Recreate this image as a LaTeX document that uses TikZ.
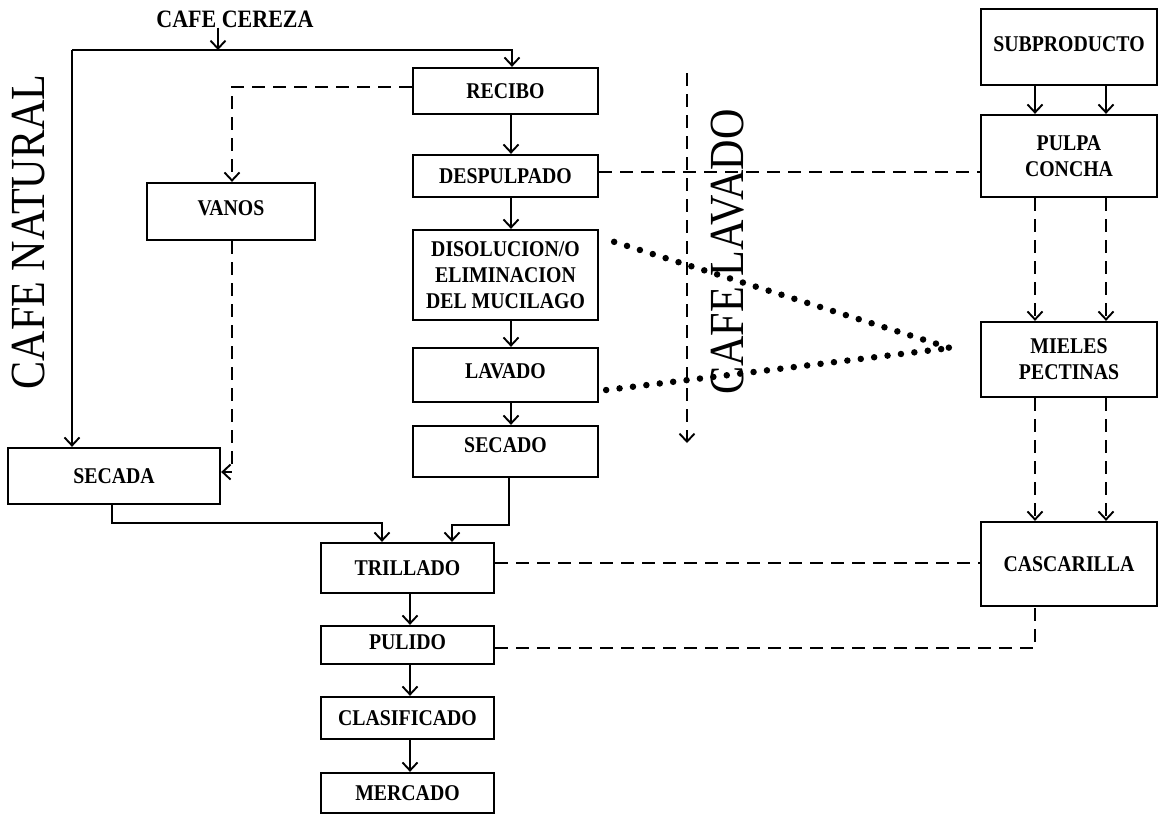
\documentclass[tikz,border=0pt]{standalone}
\usepackage{fontspec}
\setmainfont{Liberation Serif}
\newfontfamily\lblfont{Liberation Serif}[FakeStretch=0.88]
\newfontfamily\bigfont{Liberation Serif}[FakeStretch=0.86]
\usetikzlibrary{arrows.meta}
\begin{document}
\begin{tikzpicture}[x=1pt,y=-1pt,
  box/.style={draw,line width=2.3pt,inner sep=0pt,align=center,
    font=\lblfont\bfseries\fontsize{22.5}{26}\selectfont},
  conn/.style={line width=1.9pt},
  arr/.style={-{Straight Barb[length=8pt,width=15pt,line width=1.9pt]}},
  dsh/.style={dash pattern=on 13pt off 8pt},
  dotln/.style={line width=6.5pt,line cap=round,dash pattern=on 0pt off 13.5pt},
  bigtxt/.style={font=\bigfont\fontsize{49}{49}\selectfont,rotate=90,inner sep=0pt}]
\useasboundingbox (0,0) rectangle (1163,815);
\fill[white] (0,0) rectangle (1163,815);

% titles
\node[font=\lblfont\bfseries\fontsize{25}{25}\selectfont,inner sep=0pt] (cereza) at (235,19) {CAFE CEREZA};
\node[bigtxt] (natural) at (29,232) {CAFE NATURAL};
\node[bigtxt] (lavadotxt) at (728,252) {CAFE LAVADO};

% main column
\node[box,minimum width=185pt,minimum height=46pt] (recibo) at (505.5,91) {RECIBO};
\node[box,minimum width=185pt,minimum height=42pt] (despulpado) at (505.5,176) {DESPULPADO};
\node[box,minimum width=185pt,minimum height=90pt] (disolucion) at (505.5,275) {DISOLUCION/O\\ELIMINACION\\DEL MUCILAGO};
\node[box,minimum width=185pt,minimum height=54pt,text depth=8pt] (lavado) at (505.5,375) {LAVADO};
\node[box,minimum width=185pt,minimum height=51pt,text depth=12pt] (secado) at (505.5,451.5) {SECADO};
\node[box,minimum width=168pt,minimum height=57pt,text depth=6pt] (vanos) at (231,211.5) {VANOS};
\node[box,minimum width=212pt,minimum height=56pt] (secada) at (114,476) {SECADA};
\node[box,minimum width=173pt,minimum height=50pt] (trillado) at (407.5,568) {TRILLADO};
\node[box,minimum width=173pt,minimum height=38pt,text depth=6pt] (pulido) at (407.5,645) {PULIDO};
\node[box,minimum width=173pt,minimum height=42pt] (clasificado) at (407.5,718) {CLASIFICADO};
\node[box,minimum width=173pt,minimum height=40pt] (mercado) at (407.5,793) {MERCADO};

% right column
\node[box,minimum width=176pt,minimum height=76pt,text depth=6pt] (subproducto) at (1069,47) {SUBPRODUCTO};
\node[box,minimum width=176pt,minimum height=82pt] (pulpa) at (1069,156) {PULPA\\CONCHA};
\node[box,minimum width=176pt,minimum height=75pt] (mieles) at (1069,359.5) {MIELES\\PECTINAS};
\node[box,minimum width=176pt,minimum height=84pt] (cascarilla) at (1069,564) {CASCARILLA};

% helper coordinates
\coordinate (cz) at (218,50);
\coordinate (tl) at (72,50);
\coordinate (tr) at (512,50);
\coordinate (colx) at (511,0);
\coordinate (rv) at (232,87);
\coordinate (vs) at (232,472);
\coordinate (sa) at (112,523);
\coordinate (sb) at (382,523);
\coordinate (sc) at (509,525);
\coordinate (sd) at (452,525);
\coordinate (lowx) at (410,0);
\coordinate (ra) at (1035,0);
\coordinate (rb) at (1106,0);
\coordinate (pc) at (1035,648);
\coordinate (lvtop) at (687,73);
\coordinate (lvbot) at (687,443);
\coordinate (conv) at (950,348);

% solid connectors
\draw[conn,arr] (cereza.south -| cz) -- (cz);
\draw[conn,arr] (tl) -- (secada.north -| tl);
\draw[conn,arr] (tl) -- (tr) -- (recibo.north -| tr);
\draw[conn,arr] (recibo.south -| colx) -- (despulpado.north -| colx);
\draw[conn,arr] (despulpado.south -| colx) -- (disolucion.north -| colx);
\draw[conn,arr] (disolucion.south -| colx) -- (lavado.north -| colx);
\draw[conn,arr] (lavado.south -| colx) -- (secado.north -| colx);
\draw[conn,arr] (secada.south -| sa) -- (sa) -- (sb) -- (trillado.north -| sb);
\draw[conn,arr] (secado.south -| sc) -- (sc) -- (sd) -- (trillado.north -| sd);
\draw[conn,arr] (trillado.south -| lowx) -- (pulido.north -| lowx);
\draw[conn,arr] (pulido.south -| lowx) -- (clasificado.north -| lowx);
\draw[conn,arr] (clasificado.south -| lowx) -- (mercado.north -| lowx);
\draw[conn,arr] (subproducto.south -| ra) -- (pulpa.north -| ra);
\draw[conn,arr] (subproducto.south -| rb) -- (pulpa.north -| rb);

% dashed connectors
\draw[conn,dsh,arr] (recibo.west |- rv) -- (rv) -- (vanos.north -| rv);
\draw[conn,dsh,arr] (vanos.south -| vs) -- (vs) -- (secada.east |- vs);
\draw[conn,dsh] (despulpado.east) ++(0,-4) -- (pulpa.west |- 0,172);
\draw[conn,dsh,arr] (pulpa.south -| ra) -- (mieles.north -| ra);
\draw[conn,dsh,arr] (pulpa.south -| rb) -- (mieles.north -| rb);
\draw[conn,dsh,arr] (mieles.south -| ra) -- (cascarilla.north -| ra);
\draw[conn,dsh,arr] (mieles.south -| rb) -- (cascarilla.north -| rb);
\draw[conn,dsh] (trillado.east |- 0,563) -- (cascarilla.west |- 0,563);
\draw[conn,dsh] (pulido.east |- pc) -- (pc) -- (cascarilla.south -| pc);
\draw[conn,dsh,arr] (lvtop) -- (lvbot);

% dotted connectors
\draw[dotln] ([xshift=15pt,yshift=-13pt]disolucion.north east) -- (conv);
\draw[dotln] ([xshift=7pt,yshift=-15pt]lavado.east) -- (conv);
\end{tikzpicture}
\end{document}
